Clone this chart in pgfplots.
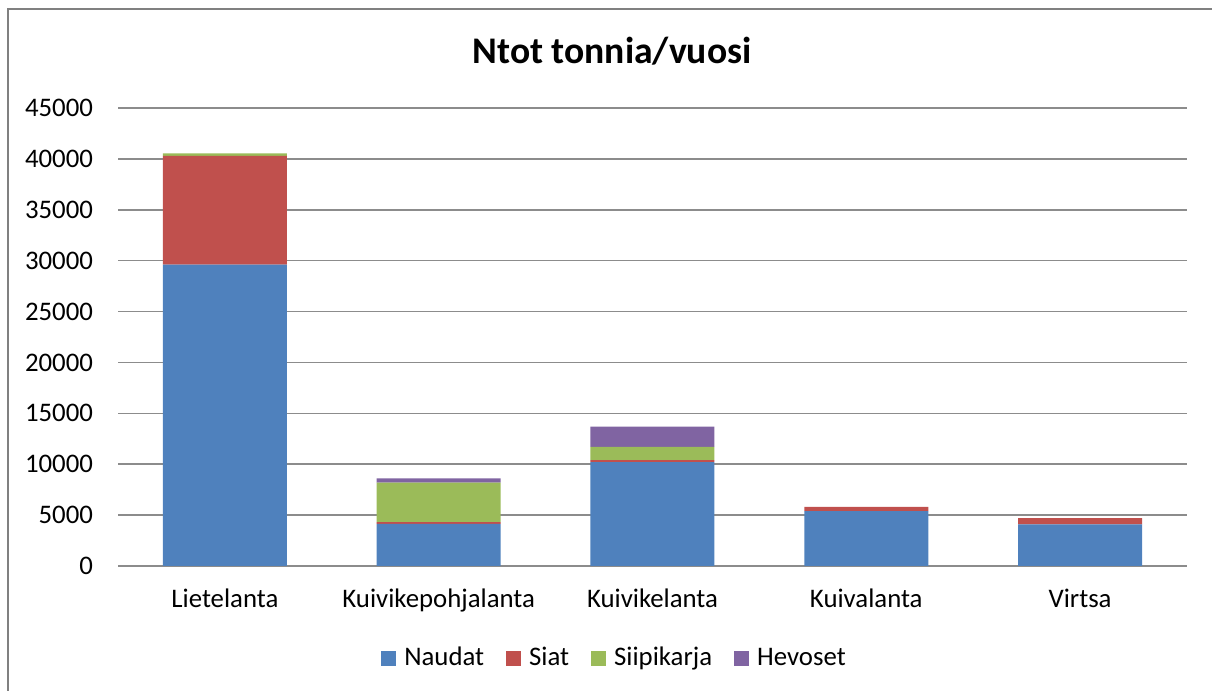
\documentclass[border=0pt]{standalone}
\usepackage{fontspec}
\setmainfont{Carlito}
\usepackage{pgfplots}
\pgfplotsset{compat=1.18}
\definecolor{naudat}{HTML}{4F81BD}
\definecolor{siat}{HTML}{C0504D}
\definecolor{siipi}{HTML}{9BBB59}
\definecolor{hevo}{HTML}{8064A2}
\definecolor{gridgray}{HTML}{8C8C8C}
\definecolor{framegray}{HTML}{808080}

\begin{document}
\begin{tikzpicture}
\path[use as bounding box] (0,0) rectangle (606pt,345.5pt);
\draw[framegray, line width=1pt] (4pt,0) -- (4pt,341pt) -- (606pt,341pt);
\node[anchor=base, font=\fontsize{18.8}{22}\selectfont\bfseries] at (306pt,313.9pt) {Ntot tonnia/vuosi};
\begin{axis}[
  at={(59pt,62.5pt)}, anchor=south west,
  scale only axis, width=534.5pt, height=229pt,
  ybar stacked, bar width=62pt,
  xmin=-0.5, xmax=4.5, ymin=0, ymax=45000,
  ytick distance=5000,
  xtick=data,
  xticklabels={Lietelanta,Kuivikepohjalanta,Kuivikelanta,Kuivalanta,Virtsa},
  ymajorgrids, grid style={gridgray, line width=0.8pt},
  axis line style={draw=none}, major tick length=0pt,
  tick label style={font=\fontsize{13.4}{16}\selectfont},
  yticklabel style={xshift=-9pt},
  xticklabel style={yshift=-8pt},
  /pgf/number format/assume math mode=true,
  /pgf/number format/set thousands separator={},
  scaled y ticks=false,
  legend columns=4,
  legend style={at={(0.4654,-0.2009)}, anchor=center, draw=none, fill=none,
    font=\fontsize{13.4}{16}\selectfont,
    /tikz/every odd column/.append style={column sep=2pt},
    /tikz/every even column/.append style={column sep=9pt}},
  legend image code/.code={\path[#1] (0pt,-3.75pt) rectangle (7.5pt,3.75pt);},
]
% Naudat
\addplot[fill=naudat, draw=none] coordinates {(0,29600) (1,4150) (2,10200) (3,5400) (4,4100)};
% Siat
\addplot[fill=siat, draw=none] coordinates {(0,10700) (1,150) (2,200) (3,400) (4,600)};
% Siipikarja
\addplot[fill=siipi, draw=none] coordinates {(0,250) (1,3900) (2,1300) (3,0) (4,0)};
% Hevoset
\addplot[fill=hevo, draw=none] coordinates {(0,0) (1,400) (2,2000) (3,0) (4,0)};
\legend{Naudat,Siat,Siipikarja,Hevoset}
\end{axis}
\end{tikzpicture}
\end{document}
